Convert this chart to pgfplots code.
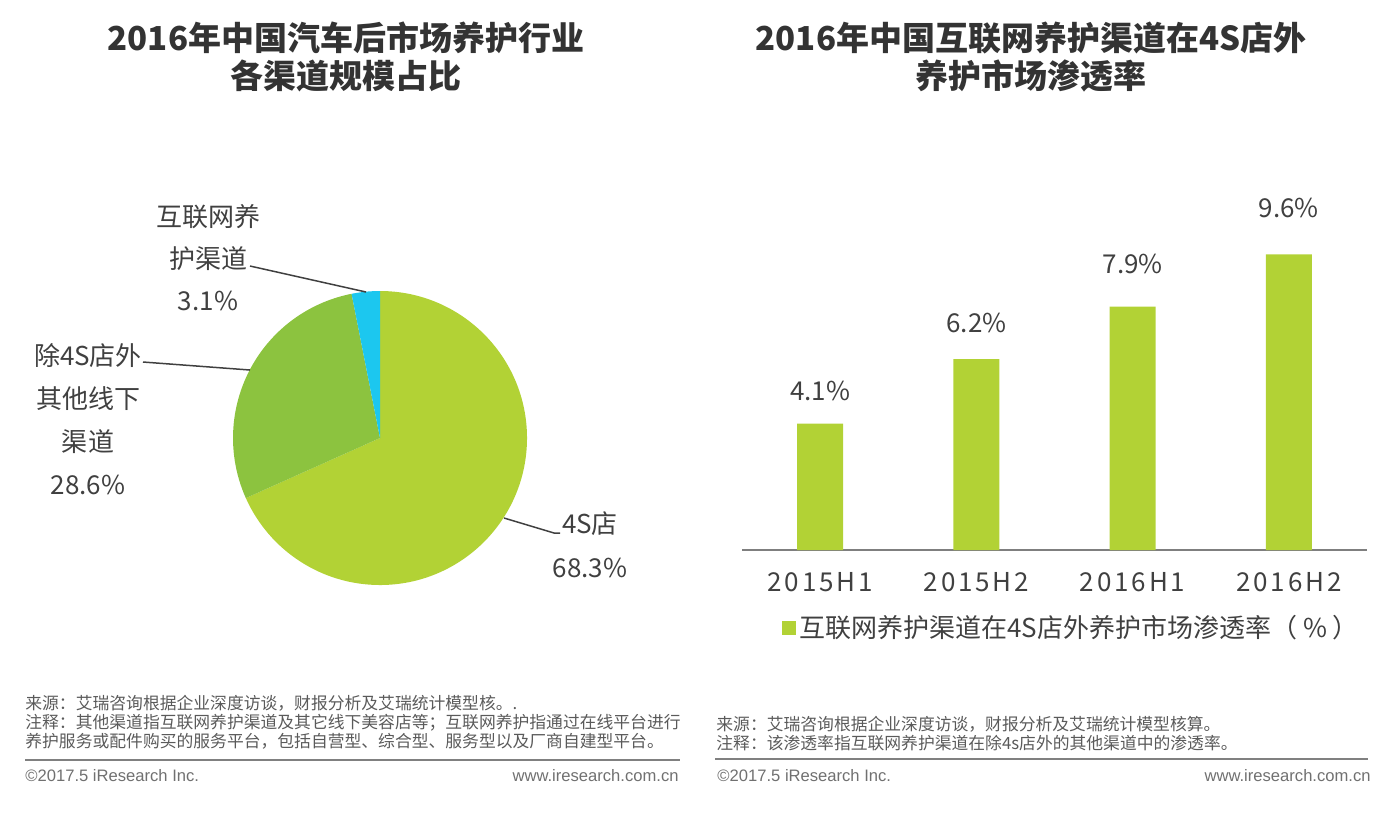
\documentclass[border=0pt]{standalone}
\usepackage{fontspec}
\setmainfont{Noto Sans CJK SC}
\newfontfamily\arialf{Liberation Sans}
\newfontfamily\tickf[LetterSpace=11]{Noto Sans CJK SC}
\usepackage{pgfplots}
\pgfplotsset{compat=1.18}
\usepackage{pgfplotstable}

\definecolor{cbar}{HTML}{B2D235}
\definecolor{cother}{HTML}{8CC33F}
\definecolor{cnet}{HTML}{1CC7EF}
\definecolor{ctext}{HTML}{404040}
\definecolor{ctitle}{HTML}{333333}
\definecolor{cnote}{HTML}{5A5A5A}
\definecolor{cfoot}{HTML}{707070}
\definecolor{crule}{HTML}{808080}
\definecolor{caxis}{HTML}{7F7F7F}

% off = gap (bp) between bar top and label baseline
\pgfplotstableread{
x val off
0 4.1 11.5
1 6.2 13.5
2 7.9 16.5
3 9.6 18.5
}\bardata

\pgfplotstableread{
name val
4S 68.3
other 28.6
net 3.1
}\piedata

\begin{document}%
\begin{tikzpicture}[x=0.5bp,y=-0.5bp]
\pgfplotstablegetelem{0}{val}\of\piedata \let\vA\pgfplotsretval
\pgfplotstablegetelem{1}{val}\of\piedata \let\vB\pgfplotsretval
\pgfplotstablegetelem{2}{val}\of\piedata \let\vC\pgfplotsretval
\pgfmathsetmacro\aA{90-3.6*\vA}
\pgfmathsetmacro\aB{\aA-3.6*\vB}
\pgfmathsetmacro\aC{\aB-3.6*\vC}
\useasboundingbox (0,0) rectangle (1400,816);

% titles
\node[font=\fontsize{16.5bp}{19bp}\selectfont\bfseries, text=ctitle, align=center] at (346,57) {2016年中国汽车后市场养护行业\\各渠道规模占比};
\node[font=\fontsize{16.5bp}{19bp}\selectfont\bfseries, text=ctitle, align=center] at (1031,57) {2016年中国互联网养护渠道在4S店外\\养护市场渗透率};

% pie
\begin{axis}[at={(190bp,-219bp)}, anchor=origin, x=0.5bp, y=0.5bp,
  xmin=-150, xmax=150, ymin=-150, ymax=150, hide axis, clip=false]
\fill[cbar] (axis cs:0,0) -- ++(90:73.5bp) arc[start angle=90, end angle=\aA, radius=73.5bp] -- cycle;
\fill[cother] (axis cs:0,0) -- ++(\aA:73.5bp) arc[start angle=\aA, end angle=\aB, radius=73.5bp] -- cycle;
\fill[cnet] (axis cs:0,0) -- ++(\aB:73.5bp) arc[start angle=\aB, end angle=\aC, radius=73.5bp] -- cycle;
\draw[ctext, line width=0.75bp] (axis cs:-130,172) -- (axis cs:-14,146);
\draw[ctext, line width=0.75bp] (axis cs:-237,76) -- (axis cs:-130,68);
\draw[ctext, line width=0.75bp] (axis cs:124,-80) -- (axis cs:174,-95) -- (axis cs:180,-95);
\end{axis}

\node[font=\fontsize{13bp}{21bp}\selectfont, text=ctext, align=center] at (208,258) {互联网养\\护渠道\\3.1\%};
\node[font=\fontsize{13bp}{21.5bp}\selectfont, text=ctext, align=center] at (88,419) {除4S店外\\其他线下\\渠道\\28.6\%};
\node[font=\fontsize{13bp}{22bp}\selectfont, text=ctext, align=center] at (590,545) {4S店\\68.3\%};

% bars
\begin{axis}[at={(371bp,-275bp)}, anchor=south west, x=78.125bp, y=15.4bp,
  xmin=-0.5, xmax=3.5, ymin=0, ymax=10.5,
  axis x line=bottom, axis y line=none,
  x axis line style={caxis, line width=0.75bp, -},
  xtick=data, xticklabels={2015H1,2015H2,2016H1,2016H2},
  major tick length=0pt,
  xticklabel style={font=\tickf\fontsize{13bp}{13bp}\selectfont, text=ctext, anchor=base, yshift=-20.5bp},
  ytick=\empty,
  clip=false,
  legend style={at={(rel axis cs:0.064,0)}, anchor=west, yshift=-39bp, draw=none, fill=none, inner sep=0pt,
    font=\fontsize{13bp}{13bp}\selectfont, text=ctext, nodes={inner sep=1.5bp}},
  legend image code/.code={\fill[cbar] (0bp,-3.5bp) rectangle (7bp,3.5bp);},
]
\addplot[ybar, bar width=23bp, fill=cbar, draw=none,
  visualization depends on={\thisrow{off} \as \labeloff},
  nodes near coords={\pgfmathprintnumber[assume math mode=true,fixed,fixed zerofill,precision=1]{\pgfplotspointmeta}\%},
  every node near coord/.append style={font=\fontsize{13bp}{13bp}\selectfont, text=ctext, anchor=base, yshift=\labeloff bp},
  ] table[x=x, y=val] {\bardata};
\addlegendentry{互联网养护渠道在4S店外养护市场渗透率（ \% ）}
\end{axis}

% footnotes
\begin{scope}[every node/.style={font=\fontsize{8.4bp}{9.5bp}\selectfont, text=cnote, anchor=base west, inner sep=0pt}]
\node at (25,709) {来源：艾瑞咨询根据企业深度访谈，财报分析及艾瑞统计模型核。.};
\node at (25,728) {注释：其他渠道指互联网养护渠道及其它线下美容店等；互联网养护指通过在线平台进行};
\node at (25,747) {养护服务或配件购买的服务平台，包括自营型、综合型、服务型以及厂商自建型平台。};
\node at (716,730) {来源：艾瑞咨询根据企业深度访谈，财报分析及艾瑞统计模型核算。};
\node at (716,749) {注释：该渗透率指互联网养护渠道在除4s店外的其他渠道中的渗透率。};
\end{scope}
\draw[crule, line width=1bp] (25,760) -- (680,760);
\draw[crule, line width=1bp] (715,759) -- (1368,759);
\begin{scope}[every node/.style={font=\arialf\fontsize{8.3bp}{9bp}\selectfont, text=cfoot, inner sep=0pt}]
\node[anchor=base west] at (25,781) {©2017.5 iResearch Inc.};
\node[anchor=base east] at (679,781) {www.iresearch.com.cn};
\node[anchor=base west] at (717,781) {©2017.5 iResearch Inc.};
\node[anchor=base east] at (1371,781) {www.iresearch.com.cn};
\end{scope}
\end{tikzpicture}%
\end{document}
